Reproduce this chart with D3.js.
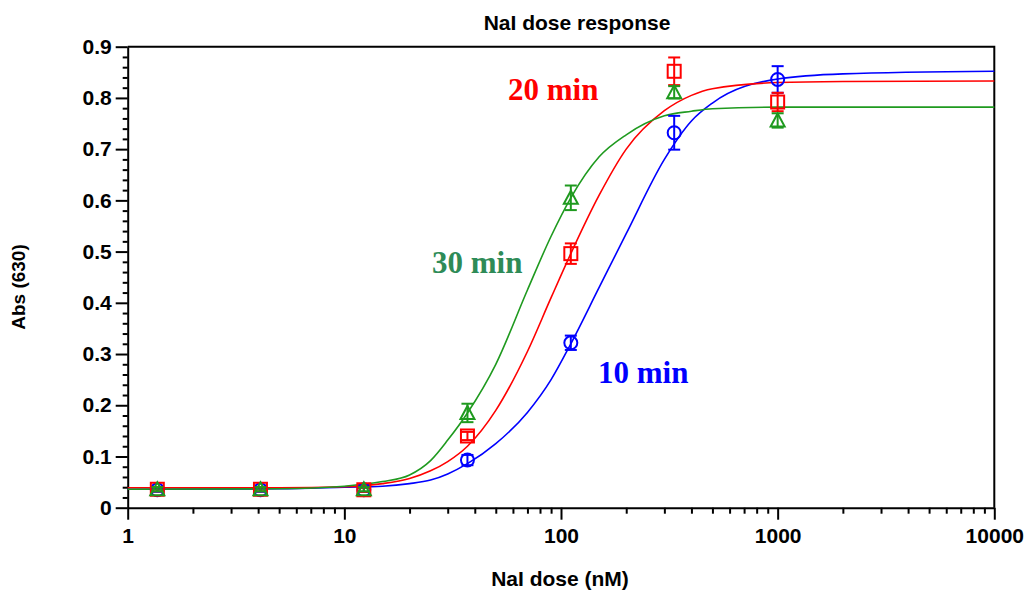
<!DOCTYPE html>
<html>
<head>
<meta charset="utf-8">
<script src="https://cdn.jsdelivr.net/npm/d3@7"></script>
<style>
  body { margin: 0; background: #fff; }
  svg { display: block; }
  .tick text { font-family: "Liberation Sans", Arial, sans-serif; font-weight: bold; font-size: 21px; fill: #000; }
</style>
</head>
<body>
<div id="chart"></div>
<script>
// measured doses (nM)
var doses = [1.37, 4.1, 12.3, 37, 111, 333, 1000];

// mean absorbance and error at each dose
var abs10 = [0.035, 0.035, 0.035, 0.093, 0.322, 0.732, 0.836];
var err10 = [0.004, 0.004, 0.004, 0.010, 0.014, 0.033, 0.026];
var abs20 = [0.036, 0.036, 0.035, 0.140, 0.496, 0.852, 0.792];
var err20 = [0.004, 0.004, 0.004, 0.008, 0.020, 0.027, 0.018];
var abs30 = [0.036, 0.036, 0.036, 0.185, 0.605, 0.811, 0.756];
var err30 = [0.004, 0.004, 0.004, 0.018, 0.024, 0.012, 0.014];

// fitted curves
var fitDoses = [1, 5, 10, 15, 20, 25, 30, 37, 50, 70, 90, 111, 150, 200, 300, 400, 500, 1000, 2000, 10000];
var fit10 = [0.036, 0.037, 0.040, 0.042, 0.047, 0.054, 0.066, 0.086, 0.125, 0.186, 0.250, 0.320, 0.430, 0.535, 0.680, 0.755, 0.790, 0.837, 0.847, 0.852];
var fit20 = [0.039, 0.039, 0.041, 0.047, 0.057, 0.072, 0.090, 0.120, 0.190, 0.305, 0.410, 0.496, 0.610, 0.700, 0.775, 0.805, 0.818, 0.830, 0.832, 0.833];
var fit30 = [0.036, 0.037, 0.042, 0.051, 0.064, 0.092, 0.132, 0.185, 0.280, 0.425, 0.530, 0.605, 0.685, 0.728, 0.765, 0.774, 0.779, 0.782, 0.782, 0.782];

var seriesNames = ["10 min", "20 min", "30 min"];

// axis ticks
var xMajor = [1, 10, 100, 1000, 10000];
var xMinor = [2, 3, 4, 5, 6, 7, 8, 9, 20, 30, 40, 50, 60, 70, 80, 90,
              200, 300, 400, 500, 600, 700, 800, 900, 2000, 3000, 4000, 5000, 6000, 7000, 8000, 9000];
var yMajor = [0, 0.1, 0.2, 0.3, 0.4, 0.5, 0.6, 0.7, 0.8, 0.9];
var yMinor = [0.02, 0.04, 0.06, 0.08, 0.12, 0.14, 0.16, 0.18, 0.22, 0.24, 0.26, 0.28,
              0.32, 0.34, 0.36, 0.38, 0.42, 0.44, 0.46, 0.48, 0.52, 0.54, 0.56, 0.58,
              0.62, 0.64, 0.66, 0.68, 0.72, 0.74, 0.76, 0.78, 0.82, 0.84, 0.86, 0.88];

var svgWidth = 1027, svgHeight = 590;
var plotLeft = 127.7, plotRight = 994.3, plotTop = 46.7, plotBottom = 507.7;

var svg = d3.select("#chart").append("svg")
    .attr("width", svgWidth)
    .attr("height", svgHeight);

var x = d3.scaleLog().domain([1, 10000]).range([plotLeft, plotRight]);
var y = d3.scaleLinear().domain([0, 0.9]).range([plotBottom, plotTop]);

var series = [
    { name: seriesNames[0], mean: abs10, err: err10, fit: fit10, color: "#0000ff", text: "#0000ff", shape: "circle", lx: 598, ly: 383 },
    { name: seriesNames[1], mean: abs20, err: err20, fit: fit20, color: "#ff0000", text: "#ff0000", shape: "square", lx: 508, ly: 100 },
    { name: seriesNames[2], mean: abs30, err: err30, fit: fit30, color: "#1f9a1f", text: "#2e8b57", shape: "triangle", lx: 432, ly: 273 }
];

// frame on top and right
svg.append("path")
    .attr("d", `M${plotLeft},${plotTop}H${plotRight}V${plotBottom}`)
    .attr("fill", "none")
    .attr("stroke", "#000")
    .attr("stroke-width", 2);

// x axis
svg.append("g")
    .attr("transform", `translate(0,${plotBottom})`)
    .call(d3.axisBottom(x).tickValues(xMinor).tickSize(6).tickFormat(""))
    .call(g => g.select(".domain").remove())
    .selectAll("line").attr("stroke-width", 2);

var xAxis = svg.append("g")
    .attr("transform", `translate(0,${plotBottom})`)
    .call(d3.axisBottom(x).tickValues(xMajor).tickSize(12).tickSizeOuter(0).tickPadding(8).tickFormat(d3.format("d")));
xAxis.select(".domain").attr("stroke-width", 2);
xAxis.selectAll("line").attr("stroke-width", 2);

// y axis
svg.append("g")
    .attr("transform", `translate(${plotLeft},0)`)
    .call(d3.axisLeft(y).tickValues(yMinor).tickSize(5).tickFormat(""))
    .call(g => g.select(".domain").remove())
    .selectAll("line").attr("stroke-width", 2);

var yAxis = svg.append("g")
    .attr("transform", `translate(${plotLeft},0)`)
    .call(d3.axisLeft(y).tickValues(yMajor).tickSize(12).tickSizeOuter(0).tickPadding(4)
        .tickFormat(d => d === 0 ? "0" : d3.format(".1f")(d)));
yAxis.select(".domain").attr("stroke-width", 2);
yAxis.selectAll("line").attr("stroke-width", 2);

// titles
svg.append("text")
    .attr("x", 577).attr("y", 30)
    .attr("text-anchor", "middle")
    .style("font-family", "'Liberation Sans', Arial, sans-serif")
    .style("font-weight", "bold").style("font-size", "21px")
    .text("NaI dose response");

svg.append("text")
    .attr("x", 560).attr("y", 586)
    .attr("text-anchor", "middle")
    .style("font-family", "'Liberation Sans', Arial, sans-serif")
    .style("font-weight", "bold").style("font-size", "21px")
    .text("NaI dose (nM)");

svg.append("text")
    .attr("transform", "translate(25,287) rotate(-90)")
    .attr("text-anchor", "middle")
    .style("font-family", "'Liberation Sans', Arial, sans-serif")
    .style("font-weight", "bold").style("font-size", "19px")
    .text("Abs (630)");

// fitted curves
var line = d3.line()
    .x(d => x(d[0]))
    .y(d => y(d[1]))
    .curve(d3.curveMonotoneX);

series.forEach(s => {
    svg.append("path")
        .datum(fitDoses.map((d, i) => [d, s.fit[i]]))
        .attr("fill", "none")
        .attr("stroke", s.color)
        .attr("stroke-width", 1.6)
        .attr("d", line);
});

// data points with error bars
series.forEach(s => {
    var pts = doses.map((d, i) => ({ dose: d, v: s.mean[i], e: s.err[i] }));
    var g = svg.append("g")
        .attr("stroke", s.color)
        .attr("stroke-width", 2)
        .attr("fill", "none");

    var bars = g.selectAll(".bar").data(pts).enter().append("g");
    bars.append("line")
        .attr("x1", d => x(d.dose)).attr("x2", d => x(d.dose))
        .attr("y1", d => y(d.v - d.e)).attr("y2", d => y(d.v + d.e));
    bars.append("line")
        .attr("x1", d => x(d.dose) - 6).attr("x2", d => x(d.dose) + 6)
        .attr("y1", d => y(d.v + d.e)).attr("y2", d => y(d.v + d.e));
    bars.append("line")
        .attr("x1", d => x(d.dose) - 6).attr("x2", d => x(d.dose) + 6)
        .attr("y1", d => y(d.v - d.e)).attr("y2", d => y(d.v - d.e));

    if (s.shape === "circle") {
        g.selectAll(".m").data(pts).enter().append("circle")
            .attr("cx", d => x(d.dose)).attr("cy", d => y(d.v)).attr("r", 6.5);
    } else if (s.shape === "square") {
        g.selectAll(".m").data(pts).enter().append("rect")
            .attr("x", d => x(d.dose) - 6.5).attr("y", d => y(d.v) - 6.5)
            .attr("width", 13).attr("height", 13);
    } else {
        g.selectAll(".m").data(pts).enter().append("path")
            .attr("d", d => {
                var cx = x(d.dose), cy = y(d.v);
                return `M${cx},${cy - 7}L${cx + 7},${cy + 6}L${cx - 7},${cy + 6}Z`;
            });
    }

    svg.append("text")
        .attr("x", s.lx).attr("y", s.ly)
        .attr("fill", s.text)
        .style("font-family", "'Liberation Serif', 'Times New Roman', serif")
        .style("font-weight", "bold").style("font-size", "31px")
        .text(s.name);
});
</script>
</body>
</html>
